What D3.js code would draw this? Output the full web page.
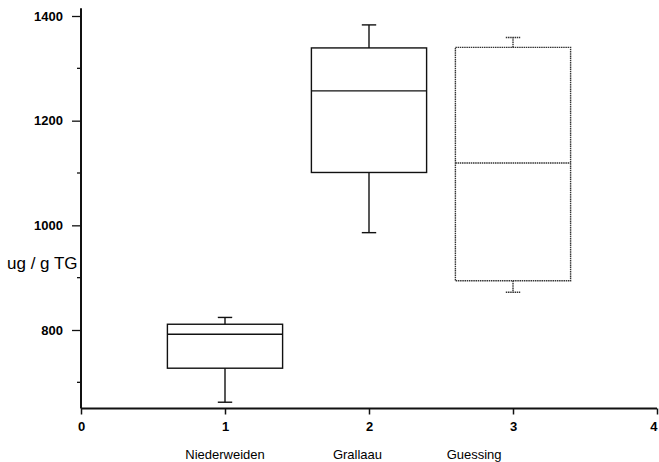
<!DOCTYPE html>
<html><head><meta charset="utf-8">
<script src="https://cdn.jsdelivr.net/npm/d3@7"></script>
<style>
html,body{margin:0;padding:0;background:#fff;}
svg{display:block;}
text{font-family:"Liberation Sans",Arial,sans-serif;fill:#000;}
</style></head>
<body>
<svg id="c" width="659" height="462"></svg>
<script>
const categories = ["Niederweiden", "Grallaau", "Guessing"];
const positions = [1, 2, 3];
const labelPositions = [1.0, 1.92, 2.73];
const whiskerLow = [662, 986, 872];
const q1 = [727, 1101, 894];
const median = [792, 1257, 1119];
const q3 = [811, 1339, 1340];
const whiskerHigh = [824, 1383, 1359];
const xTicks = [0, 1, 2, 3, 4];
const yTicks = [800, 1000, 1200, 1400];
const yMinorTicks = [700, 900, 1100, 1300];
const yLabel = "ug / g TG";

const svg = d3.select("#c");
const x = d3.scaleLinear().domain([0, 4]).range([81, 657]);
const y = d3.scaleLinear().domain([800, 1400]).range([330, 16]);
const yBottom = 650, yTop = 1415;

const ink = "#111";

// y axis
const gy = svg.append("g").attr("transform", `translate(${x(0)},0)`);
gy.append("line").attr("x1", 0).attr("x2", 0).attr("y1", y(yTop)).attr("y2", y(yBottom))
  .attr("stroke", ink).attr("stroke-width", 2);
gy.call(g => {
  const ax = d3.axisLeft(y).tickValues(yTicks).tickSize(9).tickPadding(9).tickFormat(d3.format("d"));
  g.call(ax);
  g.select(".domain").remove();
  g.selectAll(".tick line").attr("stroke", ink).attr("stroke-width", 1.3);
  g.selectAll(".tick text").style("font-family", '"Liberation Sans",Arial,sans-serif')
    .style("font-size", "13px").style("font-weight", "bold").attr("fill", ink);
});
gy.selectAll(".minor").data(yMinorTicks).join("line").attr("class", "minor")
  .attr("x1", -4).attr("x2", 0).attr("y1", d => y(d)).attr("y2", d => y(d))
  .attr("stroke", ink).attr("stroke-width", 1.3);

// x axis
const gx = svg.append("g").attr("transform", `translate(0,${y(yBottom)})`);
gx.append("line").attr("x1", x(0)).attr("x2", x(4)).attr("y1", 0).attr("y2", 0)
  .attr("stroke", ink).attr("stroke-width", 2);
gx.call(g => {
  const ax = d3.axisBottom(x).tickValues(xTicks).tickSize(6).tickPadding(7).tickFormat(d3.format("d"));
  g.call(ax);
  g.select(".domain").remove();
  g.selectAll(".tick line").attr("stroke", ink).attr("stroke-width", 1.5);
  g.selectAll(".tick text").style("font-family", '"Liberation Sans",Arial,sans-serif')
    .style("font-size", "13px").style("font-weight", "bold").attr("fill", ink);
  g.selectAll(".tick text").filter(d => d === 4).attr("text-anchor", "end").attr("dx", "0");
});

// category labels
svg.selectAll(".cat").data(categories).join("text").attr("class", "cat")
  .attr("x", (d, i) => x(labelPositions[i])).attr("y", 459)
  .attr("text-anchor", "middle").style("font-size", "13px").style("font-weight", "500").text(d => d);

// y label
svg.append("text").attr("x", 7).attr("y", 269).style("font-size", "17px").text(yLabel);

// boxes
const halfW = 0.4, capW = 0.05;
const boxes = svg.append("g");
positions.forEach((p, i) => {
  const dotted = i === 2;
  const g = boxes.append("g")
    .attr("stroke", dotted ? "#333" : ink)
    .attr("stroke-width", 1.4)
    .attr("fill", "none");
  if (dotted) g.attr("stroke-dasharray", "1.5,0.7");
  g.append("rect").attr("x", x(p - halfW)).attr("width", x(p + halfW) - x(p - halfW))
    .attr("y", y(q3[i])).attr("height", y(q1[i]) - y(q3[i]));
  g.append("line").attr("x1", x(p - halfW)).attr("x2", x(p + halfW))
    .attr("y1", y(median[i])).attr("y2", y(median[i]));
  g.append("line").attr("x1", x(p)).attr("x2", x(p)).attr("y1", y(q3[i])).attr("y2", y(whiskerHigh[i]));
  g.append("line").attr("x1", x(p)).attr("x2", x(p)).attr("y1", y(q1[i])).attr("y2", y(whiskerLow[i]));
  g.append("line").attr("x1", x(p - capW)).attr("x2", x(p + capW)).attr("y1", y(whiskerHigh[i])).attr("y2", y(whiskerHigh[i]));
  g.append("line").attr("x1", x(p - capW)).attr("x2", x(p + capW)).attr("y1", y(whiskerLow[i])).attr("y2", y(whiskerLow[i]));
});
</script>
</body></html>
